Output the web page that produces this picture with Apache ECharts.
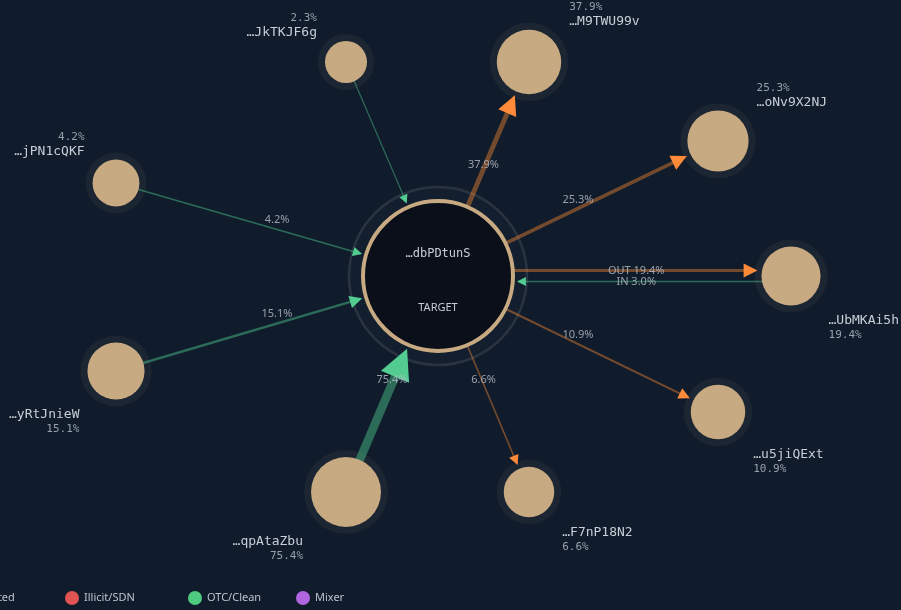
<!DOCTYPE html>
<html><head><meta charset="utf-8">
<script src="https://cdn.jsdelivr.net/npm/echarts@6/dist/echarts.min.js"></script>
<style>html,body{margin:0;padding:0;background:#101c2b}#c{width:901px;height:610px}</style>
</head><body><div id="c"></div>
<script>
// ---------- data ----------
const targetAddress = '…dbPDtunS';
const targetTag = 'TARGET';
const counterparties = ['…JkTKJF6g','…M9TWU99v','…oNv9X2NJ','…UbMKAi5h','…u5jiQExt','…F7nP18N2','…qpAtaZbu','…yRtJnieW','…jPN1cQKF'];
const outShare = [0, 37.9, 25.3, 19.4, 10.9, 6.6, 0, 0, 0];   // % of target outflow to node
const inShare  = [2.3, 0, 0, 3.0, 0, 0, 75.4, 15.1, 4.2];     // % of target inflow from node
const nodeShare = [2.3, 37.9, 25.3, 19.4, 10.9, 6.6, 75.4, 15.1, 4.2];
const legendNames = ['Unattributed', 'Illicit/SDN', 'OTC/Clean', 'Mixer'];

// ---------- layout (graph node placement, pixel space) ----------
const targetPos = [438, 276];
const nodeX = [346, 529, 718, 791, 718, 529, 346, 116, 116];
const nodeY = [62, 62, 141, 276, 412, 492, 492, 371, 183];
const legendLeft = [-71, 65, 188, 296];

// ---------- styles ----------
const TAN = '#c8aa82';
const OUT_LINE = 'rgba(240,130,50,0.45)', OUT_ARROW = '#ff8a3a';
const IN_LINE = 'rgba(80,205,145,0.45)', IN_ARROW = '#52cc90';
const legendColors = [TAN, '#e25454', '#4fcb80', '#b066e0'];
const MONO = 'DejaVu Sans Mono, monospace';
const SANS = 'Noto Sans, sans-serif';
const TR = 77;
const MIN_EDGE_LABEL = 3;
const nodeR = v => 17.7 + 9.2 * Math.log10(v);
const edgeW = v => 1 + v / 10;
const arrowS = v => 5 + 3 * edgeW(v);
const add = (p, q, k) => [p[0] + q[0] * k, p[1] + q[1] * k];

const T = targetPos;
const lineData = [], arrowData = [], edgeLabelData = [], nodeData = [], haloData = [];

counterparties.forEach((addr, i) => {
  const N = [nodeX[i], nodeY[i]];
  const r = nodeR(nodeShare[i]);
  const dx = N[0] - T[0], dy = N[1] - T[1], L = Math.hypot(dx, dy);
  const u = [dx / L, dy / L], n = [-u[1], u[0]];
  const both = outShare[i] > 0 && inShare[i] > 0;
  const upper = N[1] < T[1], left = N[0] < T[0];
  const pct = nodeShare[i].toFixed(1) + '%';

  haloData.push({ value: N, symbolSize: 2 * (r + 7) });
  nodeData.push({
    value: N, symbolSize: 2 * r,
    label: {
      formatter: upper ? `{p|${pct}}\n{a|${addr}}` : `{a|${addr}}\n{p|${pct}}`,
      align: left ? 'right' : 'left',
      verticalAlign: upper ? 'bottom' : 'top',
      offset: [left ? -(r + 8) : (r + 8), upper ? -(r + 0.5) : (r + 7.5)]
    }
  });

  if (outShare[i] > 0) {
    const v = outShare[i], off = both ? -5.5 : 0, w = edgeW(v), s = arrowS(v);
    const base = add(T, n, off);
    const tip = add(add(N, u, -(r + 4)), n, off);
    const start = add(base, u, 60);
    const ac = add(tip, u, -s / 2);
    lineData.push({ coords: [start, ac], lineStyle: { color: OUT_LINE, width: w } });
    arrowData.push({ coords: [add(ac, u, -1), ac], symbolSize: s, lineStyle: { color: OUT_ARROW } });
    let lp, txt;
    if (both) {
      const s0 = add(base, u, TR);
      lp = [(s0[0] + tip[0]) / 2, (s0[1] + tip[1]) / 2];
      txt = 'OUT ' + v.toFixed(1) + '%';
    } else {
      lp = [(T[0] + N[0]) / 2, (T[1] + N[1]) / 2 - 10 * Math.abs(u[0])];
      txt = v.toFixed(1) + '%';
    }
    if (both || v >= MIN_EDGE_LABEL) edgeLabelData.push({ value: lp, label: { formatter: txt } });
  }
  if (inShare[i] > 0) {
    const v = inShare[i], off = both ? 5.5 : 0, w = edgeW(v), s = arrowS(v);
    const tip = add(add(T, u, TR + 2), n, off);
    const start = add(N, n, off);
    const ac = add(tip, u, s / 2);
    lineData.push({ coords: [start, ac], lineStyle: { color: IN_LINE, width: w } });
    arrowData.push({ coords: [add(ac, u, 1), ac], symbolSize: s, lineStyle: { color: IN_ARROW } });
    let lp, txt;
    if (both) {
      const s0 = add(add(T, u, TR), n, off);
      const e0 = add(add(N, u, -(r + 4)), n, off);
      lp = [(s0[0] + e0[0]) / 2, (s0[1] + e0[1]) / 2];
      txt = 'IN ' + v.toFixed(1) + '%';
    } else {
      lp = [(T[0] + N[0]) / 2, (T[1] + N[1]) / 2 - 10 * Math.abs(u[0])];
      txt = v.toFixed(1) + '%';
    }
    if (both || v >= MIN_EDGE_LABEL) edgeLabelData.push({ value: lp, label: { formatter: txt } });
  }
});

const chart = echarts.init(document.getElementById('c'));
const legendSeries = legendNames.map((name, k) => ({
  type: 'scatter', name, data: [], itemStyle: { color: legendColors[k], opacity: 1 }
}));
const legends = legendNames.map((name, k) => ({
  data: [name], left: legendLeft[k], top: 591, itemWidth: 14, itemHeight: 14,
  icon: 'circle', selectedMode: false, padding: 0,
  itemStyle: { opacity: 1 },
  textStyle: { color: '#bcc3cc', fontSize: 11, fontFamily: SANS }
}));

chart.setOption({
  backgroundColor: '#101c2b',
  animation: false,
  grid: { left: 0, right: 0, top: 0, bottom: 0 },
  xAxis: { type: 'value', min: 0, max: 901, show: false },
  yAxis: { type: 'value', min: 0, max: 610, inverse: true, show: false },
  legend: legends,
  series: [
    ...legendSeries,
    { // target outer ring
      type: 'scatter', silent: true, z: 1, data: [T], symbolSize: 178,
      itemStyle: { color: 'rgba(255,255,255,0.015)', borderColor: '#2a3441', borderWidth: 2.5, opacity: 1 }
    },
    { // node halos
      type: 'scatter', silent: true, z: 1, data: haloData,
      itemStyle: { color: '#1c2632', opacity: 1 }
    },
    { // edges
      type: 'lines', coordinateSystem: 'cartesian2d', silent: true, z: 2,
      symbol: 'none', data: lineData, lineStyle: { opacity: 1, curveness: 0 }
    },
    { // arrow heads
      type: 'lines', coordinateSystem: 'cartesian2d', silent: true, z: 3,
      symbol: ['none', 'triangle'], data: arrowData, lineStyle: { opacity: 1, width: 1, curveness: 0 }
    },
    { // counterparty nodes
      type: 'scatter', silent: true, z: 4, data: nodeData,
      itemStyle: { color: TAN, opacity: 1 },
      label: {
        show: true, position: 'inside',
        rich: {
          a: { fontFamily: MONO, fontSize: 13, color: '#c7ced6', lineHeight: 15 },
          p: { fontFamily: MONO, fontSize: 11, color: '#97a1ac', lineHeight: 14 }
        }
      }
    },
    { // target node
      type: 'scatter', silent: true, z: 4, data: [T], symbolSize: 150,
      itemStyle: { color: '#0a0f19', borderColor: TAN, borderWidth: 4, opacity: 1 },
      label: {
        show: true, position: 'inside', offset: [0, 5],
        formatter: `{a|${targetAddress}}\n{g|}\n{b|${targetTag}}`,
        rich: {
          a: { fontFamily: MONO, fontSize: 12, color: '#c7ced6', lineHeight: 20 },
          g: { lineHeight: 34 },
          b: { fontFamily: SANS, fontSize: 11, color: '#c7ced6', lineHeight: 20 }
        }
      }
    },
    { // edge labels
      type: 'scatter', silent: true, z: 5, data: edgeLabelData, symbolSize: 1,
      itemStyle: { color: 'rgba(0,0,0,0)' },
      label: { show: true, position: 'inside', fontFamily: SANS, fontSize: 11, color: '#b9c1ca' }
    }
  ]
});
</script>
</body></html>
